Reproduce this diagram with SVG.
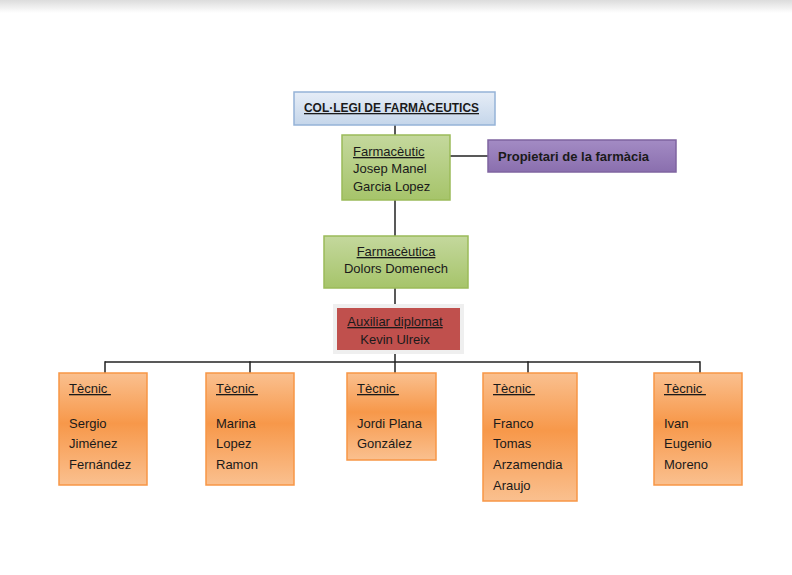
<svg xmlns="http://www.w3.org/2000/svg" width="792" height="575" viewBox="0 0 792 575">
<defs>
<linearGradient id="topShade" x1="0" y1="0" x2="0" y2="1">
<stop offset="0" stop-color="#dcdcdc"/><stop offset="1" stop-color="#ffffff"/>
</linearGradient>
<linearGradient id="gBlue" x1="0" y1="0" x2="0" y2="1">
<stop offset="0" stop-color="#e6edf7"/><stop offset="1" stop-color="#c5d6ea"/>
</linearGradient>
<linearGradient id="gGreen" x1="0" y1="0" x2="0" y2="1">
<stop offset="0" stop-color="#c4d89d"/><stop offset="1" stop-color="#a6c46a"/>
</linearGradient>
<linearGradient id="gPurple" x1="0" y1="0" x2="0" y2="1">
<stop offset="0" stop-color="#a38bc4"/><stop offset="1" stop-color="#8a6fae"/>
</linearGradient>
<linearGradient id="gOrange" x1="0" y1="0" x2="0" y2="1">
<stop offset="0" stop-color="#fac08f"/><stop offset="0.45" stop-color="#f7984a"/><stop offset="1" stop-color="#fac08f"/>
</linearGradient>
</defs>
<style>
text{font-family:"Liberation Sans",Arial,sans-serif;font-size:13px;fill:#1a1a1a}
.b{font-weight:bold}
.u{text-decoration:underline}
.c{text-anchor:middle}
.conn line{stroke:#222;stroke-width:1.5}
.tec{fill:url(#gOrange);stroke:#f79646;stroke-width:1.5}
</style>
<rect x="0" y="0" width="792" height="575" fill="#ffffff"/>
<rect x="0" y="0" width="792" height="13" fill="url(#topShade)"/>

<g id="connectors" class="conn">
<line x1="395" y1="125" x2="395" y2="135"/>
<line x1="395" y1="200" x2="395" y2="236"/>
<line x1="450" y1="156" x2="488" y2="156"/>
<line x1="395" y1="288" x2="395" y2="304"/>
<line x1="395" y1="354" x2="395" y2="373"/>
<line x1="105" y1="362" x2="700" y2="362"/>
<line x1="105" y1="361.3" x2="105" y2="373"/>
<line x1="250" y1="361.3" x2="250" y2="373"/>
<line x1="528" y1="361.3" x2="528" y2="373"/>
<line x1="700" y1="361.3" x2="700" y2="373"/>
</g>

<g id="collegi">
<rect x="294" y="92" width="201" height="33" fill="url(#gBlue)" stroke="#95b3d7" stroke-width="1.5"/>
<text x="304" y="112" class="b u" textLength="175" lengthAdjust="spacingAndGlyphs">COL·LEGI DE FARMÀCEUTICS</text>
</g>

<g id="farmaceutic">
<rect x="342" y="135" width="108" height="65" fill="url(#gGreen)" stroke="#9bbb59" stroke-width="1.5"/>
<text x="353" y="156" class="u">Farmacèutic</text>
<text x="353" y="173">Josep Manel</text>
<text x="353" y="191">Garcia Lopez</text>
</g>

<g id="propietari">
<rect x="488" y="140" width="188" height="32" fill="url(#gPurple)" stroke="#7f64a0" stroke-width="1.5"/>
<text x="498" y="161" class="b">Propietari de la farmàcia</text>
</g>

<g id="farmaceutica">
<rect x="324" y="236" width="144" height="52" fill="url(#gGreen)" stroke="#9bbb59" stroke-width="1.5"/>
<text x="396" y="256" class="c u">Farmacèutica</text>
<text x="396" y="273" class="c">Dolors Domenech</text>
</g>

<g id="auxiliar">
<rect x="333" y="304" width="131" height="50" fill="#efefef"/>
<rect x="337" y="308" width="123" height="42" fill="#c0504d"/>
<text x="395" y="326" class="c u">Auxiliar diplomat</text>
<text x="395" y="344" class="c">Kevin Ulreix</text>
</g>

<g id="tecnic1">
<rect x="59" y="373" width="88" height="112" class="tec"/>
<text x="69" y="393" class="u" xml:space="preserve">Tècnic </text>
<text x="69" y="428">Sergio</text>
<text x="69" y="448">Jiménez</text>
<text x="69" y="469">Fernández</text>
</g>

<g id="tecnic2">
<rect x="206" y="373" width="88" height="112" class="tec"/>
<text x="216" y="393" class="u" xml:space="preserve">Tècnic </text>
<text x="216" y="428">Marina</text>
<text x="216" y="448">Lopez</text>
<text x="216" y="469">Ramon</text>
</g>

<g id="tecnic3">
<rect x="347" y="373" width="89" height="87" class="tec"/>
<text x="357" y="393" class="u" xml:space="preserve">Tècnic </text>
<text x="357" y="428">Jordi Plana</text>
<text x="357" y="448">González</text>
</g>

<g id="tecnic4">
<rect x="483" y="373" width="94" height="128" class="tec"/>
<text x="493" y="393" class="u" xml:space="preserve">Tècnic </text>
<text x="493" y="428">Franco</text>
<text x="493" y="448">Tomas</text>
<text x="493" y="469">Arzamendia</text>
<text x="493" y="490">Araujo</text>
</g>

<g id="tecnic5">
<rect x="654" y="373" width="88" height="112" class="tec"/>
<text x="664" y="393" class="u" xml:space="preserve">Tècnic </text>
<text x="664" y="428">Ivan</text>
<text x="664" y="448">Eugenio</text>
<text x="664" y="469">Moreno</text>
</g>
</svg>
